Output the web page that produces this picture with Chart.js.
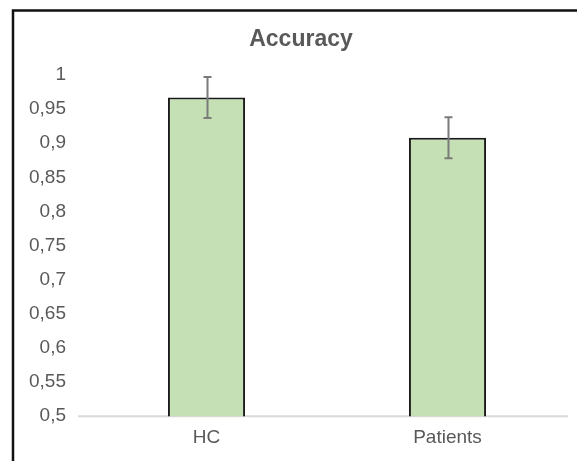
<!DOCTYPE html>
<html>
<head>
<meta charset="utf-8">
<script src="https://cdn.jsdelivr.net/npm/chart.js@4/dist/chart.umd.min.js"></script>
<style>
  html, body { margin: 0; padding: 0; background: #fff; }
  #wrap { position: relative; width: 577px; height: 461px; }
</style>
</head>
<body>
<div id="wrap"><canvas id="c" width="577" height="461"></canvas></div>
<script>
const titleText = "Accuracy";
const categories = ["HC", "Patients"];
const accuracy = [0.967, 0.908];
const errors = [0.03, 0.03];
const yTicks = [0.5, 0.55, 0.6, 0.65, 0.7, 0.75, 0.8, 0.85, 0.9, 0.95, 1];

const FONT = "'Liberation Sans', Arial, sans-serif";
const TEXT = "#595959";

const decor = {
  id: "decor",
  beforeDraw(chart) {
    const ctx = chart.ctx;
    ctx.save();
    ctx.fillStyle = "#fff";
    ctx.fillRect(0, 0, chart.width, chart.height);
    ctx.restore();
  },
  afterDraw(chart) {
    const ctx = chart.ctx;
    ctx.save();
    // outer frame (top & left only visible)
    ctx.strokeStyle = "#111";
    ctx.lineWidth = 2.5;
    ctx.beginPath();
    ctx.moveTo(13, chart.height);
    ctx.lineTo(13, 10.5);
    ctx.lineTo(chart.width, 10.5);
    ctx.stroke();
    // title
    ctx.fillStyle = TEXT;
    ctx.font = "bold 23px " + FONT;
    ctx.textAlign = "center";
    ctx.textBaseline = "middle";
    ctx.fillText(titleText, 301, 40);
    ctx.restore();
  },
  beforeDatasetsDraw(chart) {
    const ctx = chart.ctx;
    const a = chart.chartArea;
    const y = chart.scales.y.getPixelForValue(0.5);
    ctx.save();
    ctx.strokeStyle = "#d9d9d9";
    ctx.lineWidth = 2;
    ctx.beginPath();
    ctx.moveTo(a.left - 8, y);
    ctx.lineTo(a.right, y);
    ctx.stroke();
    ctx.restore();
  },
  afterDatasetsDraw(chart) {
    const ctx = chart.ctx;
    const meta = chart.getDatasetMeta(0);
    const ys = chart.scales.y;
    ctx.save();
    ctx.strokeStyle = "#7b7b7b";
    ctx.lineWidth = 2;
    meta.data.forEach((bar, i) => {
      const x = Math.round(bar.x) + 0.5;
      const top = ys.getPixelForValue(accuracy[i] + errors[i]);
      const bot = ys.getPixelForValue(accuracy[i] - errors[i]);
      ctx.beginPath();
      ctx.moveTo(x, top); ctx.lineTo(x, bot);
      ctx.moveTo(x - 4, top); ctx.lineTo(x + 4, top);
      ctx.moveTo(x - 4, bot); ctx.lineTo(x + 4, bot);
      ctx.stroke();
    });
    ctx.restore();
  }
};

new Chart(document.getElementById("c"), {
  type: "bar",
  data: {
    labels: categories,
    datasets: [{
      data: accuracy,
      backgroundColor: "#c5e0b4",
      borderColor: "#1a1a1a",
      borderWidth: 2,
      borderSkipped: "start",
      barPercentage: 0.32,
      categoryPercentage: 1
    }]
  },
  options: {
    responsive: false,
    animation: false,
    devicePixelRatio: 1,
    layout: { padding: { top: 75, right: 9, bottom: 2, left: 0 } },
    plugins: {
      legend: { display: false },
      title: { display: false },
      tooltip: { enabled: false }
    },
    scales: {
      x: {
        grid: { display: false, drawTicks: false },
        border: { display: false },
        ticks: { color: TEXT, font: { family: FONT, size: 19 }, padding: 10 }
      },
      y: {
        min: 0.5,
        max: 1,
        afterFit(scale) { scale.width = 86; },
        afterBuildTicks(scale) { scale.ticks = yTicks.map(v => ({ value: v })); },
        grid: { display: false, drawTicks: false },
        border: { display: false },
        ticks: {
          color: TEXT,
          font: { family: FONT, size: 19 },
          padding: 20,
          callback: (v) => String(Math.round(v * 100) / 100).replace(".", ",")
        }
      }
    }
  },
  plugins: [decor]
});
</script>
</body>
</html>
